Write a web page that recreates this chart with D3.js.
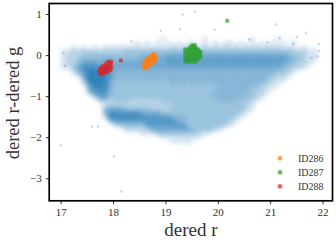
<!DOCTYPE html>
<html>
<head>
<meta charset="utf-8">
<script src="https://cdn.jsdelivr.net/npm/d3@7"></script>
<style>
  body { margin: 0; background: #fff; }
  svg { display: block; }
  text { font-family: "Liberation Serif", "DejaVu Serif", serif; }
</style>
</head>
<body>
<svg id="chart" width="336" height="246" font-family="Liberation Serif, DejaVu Serif, serif"></svg>
<script>
const xTicks = [17, 18, 19, 20, 21, 22];
const yTicks = [-3, -2, -1, 0, 1];
const legendLabels = ['ID286', 'ID287', 'ID288'];
const seriesColors = ['#ff7f0e', '#2ca02c', '#d62728'];
const cloudColor = '#1f77b4';
const serif = '"Liberation Serif", "DejaVu Serif", serif';

// blue background cloud: density (0-9) per 0.1 x 0.1 cell
// columns start at x = 17.0, one row per y centre
const cloudX0 = 17.0;
const cloudRowY = [0.4, 0.3, 0.2, 0.1, 0.0, -0.1, -0.2, -0.3, -0.4, -0.5, -0.6, -0.7, -0.8,
  -0.9, -1.0, -1.1, -1.2, -1.3, -1.4, -1.5, -1.6, -1.7, -1.8, -1.9, -2.0, -2.1];
const cloudRows = [
  '0000000000 0000000001 0000000100 0000001000 0100000000',
  '0000000000 0000101010 1010110101 0110101010 1010100000',
  '0010101011 1111111111 1212121212 1212121212 1211101000',
  '1122222222 2233333333 3333333333 3333333333 3333222110',
  '1222333333 3333344444 5555555555 5555555555 5554332110',
  '1223444455 4444455555 6666666666 6666666666 6665432110',
  '1224666555 5555555555 6666666666 6666666666 6654322100',
  '1136888666 5555555555 5555555555 5555555555 5543221000',
  '0024799986 4444444444 4444444444 4444444444 4332100000',
  '0002699986 4444444444 4444444444 4444444444 3221000000',
  '0000499985 4343434343 4444444444 4444444443 2110000000',
  '0000279985 3333333333 3434343434 4444444432 1100000000',
  '0000058884 3333333333 3333333333 4444443321 1000000000',
  '0000047774 3333333333 3333333334 4444443221 0000000000',
  '0000003663 3333333333 3333333334 4444433210 0000000000',
  '0000000332 3332222223 3333333333 4443332100 0000000000',
  '0000000012 2222222222 2333333333 3333321000 0000000000',
  '0000000045 5533333222 2333333333 3333321000 0000000000',
  '0000000047 7777755553 3333333333 3333210000 0000000000',
  '0000000028 8888886666 6444333333 3332100000 0000000000',
  '0000000004 6666667777 7744333333 3321000000 0000000000',
  '0000000000 2333336666 6666333333 3210000000 0000000000',
  '0000000000 0022222555 5555533332 1000000000 0000000000',
  '0000000000 0000011133 3333332110 0000000000 0000000000',
  '0000000000 0000000001 1111111000 0000000000 0000000000',
  '0000000000 0000000000 0111100000 0000000000 0000000000'
];

// isolated blue points away from the cloud
const cloudStray = [
  [17.0, -2.2], [18.02, -2.47], [18.16, -3.32], [17.6, -1.74], [17.71, -1.74],
  [19.33, 0.99], [19.56, 1.06], [18.91, 0.59], [19.28, 0.63], [21.11, 0.745],
  [21.68, 0.54], [21.44, 0.28], [19.94, 0.62], [21.18, 0.41], [21.51, 0.44],
  [21.93, 0.27], [21.93, 0.10], [21.79, -0.07], [21.9, -0.03], [17.05, 0.05],
  [17.08, -0.26], [20.6, 0.38], [18.35, 0.33], [20.95, 0.31]
];

const id286 = [
  [18.77, 0.03],
  [18.72, -0.02], [18.77, -0.02], [18.80, -0.02],
  [18.67, -0.07], [18.72, -0.07], [18.77, -0.07], [18.80, -0.07],
  [18.63, -0.12], [18.68, -0.12], [18.73, -0.12], [18.78, -0.12], [18.80, -0.12],
  [18.60, -0.17], [18.65, -0.17], [18.70, -0.17], [18.75, -0.17], [18.78, -0.17],
  [18.59, -0.22], [18.64, -0.22], [18.69, -0.22], [18.74, -0.22],
  [18.59, -0.27], [18.64, -0.27], [18.69, -0.27],
  [18.59, -0.32], [18.63, -0.32]
];

const id287 = [
  [19.51, 0.24], [19.56, 0.24],
  [19.47, 0.19], [19.52, 0.19], [19.57, 0.19],
  [19.38, 0.14], [19.43, 0.14], [19.48, 0.14], [19.53, 0.14], [19.58, 0.14], [19.62, 0.14],
  [19.38, 0.08], [19.43, 0.08], [19.48, 0.08], [19.53, 0.08], [19.58, 0.08], [19.63, 0.08], [19.67, 0.08],
  [19.38, 0.02], [19.43, 0.02], [19.48, 0.02], [19.53, 0.02], [19.58, 0.02], [19.63, 0.02], [19.66, 0.02],
  [19.38, -0.04], [19.43, -0.04], [19.48, -0.04], [19.53, -0.04], [19.58, -0.04], [19.63, -0.04], [19.67, -0.04],
  [19.38, -0.10], [19.43, -0.10], [19.48, -0.10], [19.53, -0.10], [19.58, -0.10], [19.63, -0.10],
  [19.38, -0.16], [19.43, -0.16], [19.48, -0.16], [19.53, -0.16], [19.58, -0.16],
  [20.18, 0.835]
];

const id288 = [
  [17.91, -0.16], [17.96, -0.16],
  [17.86, -0.21], [17.91, -0.21], [17.96, -0.21],
  [17.80, -0.27], [17.85, -0.27], [17.90, -0.27], [17.95, -0.27],
  [17.76, -0.32], [17.81, -0.32], [17.86, -0.32], [17.91, -0.32], [17.96, -0.32],
  [17.74, -0.37], [17.79, -0.37], [17.84, -0.37], [17.89, -0.37], [17.94, -0.37],
  [17.74, -0.42], [17.79, -0.42], [17.84, -0.42], [17.89, -0.42],
  [17.76, -0.46], [17.81, -0.46],
  [18.15, -0.13]
];

const series = [id286, id287, id288];

const box = { left: 49.2, right: 332.5, top: 3.5, bottom: 200.8 };

const svg = d3.select('#chart');

const xScale = d3.scaleLinear().domain([16.78, 22.19]).range([box.left, box.right]);
const yScale = d3.scaleLinear().domain([-3.548, 1.256]).range([box.bottom, box.top]);

const defs = svg.append('defs');
defs.append('clipPath').attr('id', 'plot-clip')
  .append('rect')
  .attr('x', box.left).attr('y', box.top)
  .attr('width', box.right - box.left).attr('height', box.bottom - box.top);
defs.append('filter').attr('id', 'soft')
  .attr('x', '-5%').attr('y', '-5%').attr('width', '110%').attr('height', '110%')
  .append('feGaussianBlur').attr('stdDeviation', 2);

const plot = svg.append('g').attr('clip-path', 'url(#plot-clip)');

// density cells
const cells = [];
cloudRows.forEach((row, r) => {
  row.replace(/ /g, '').split('').forEach((c, i) => {
    const v = +c;
    if (v > 0) cells.push({ x: cloudX0 + i * 0.1, y: cloudRowY[r], v });
  });
});

const opacity = d3.scalePow().exponent(0.75).domain([0, 9]).range([0, 0.93]);

plot.append('g').attr('filter', 'url(#soft)')
  .selectAll('rect')
  .data(cells)
  .join('rect')
  .attr('x', d => xScale(d.x))
  .attr('y', d => yScale(d.y + 0.05))
  .attr('width', d => xScale(d.x + 0.1) - xScale(d.x) + 0.3)
  .attr('height', d => yScale(d.y - 0.05) - yScale(d.y + 0.05) + 0.3)
  .attr('fill', cloudColor)
  .attr('fill-opacity', d => opacity(d.v));

plot.append('g')
  .selectAll('circle')
  .data(cloudStray)
  .join('circle')
  .attr('cx', d => xScale(d[0]))
  .attr('cy', d => yScale(d[1]))
  .attr('r', 1.3)
  .attr('fill', cloudColor)
  .attr('fill-opacity', 0.25);

series.forEach((pts, k) => {
  plot.append('g')
    .selectAll('circle')
    .data(pts)
    .join('circle')
    .attr('cx', d => xScale(d[0]))
    .attr('cy', d => yScale(d[1]))
    .attr('r', 2.2)
    .attr('fill', seriesColors[k])
    .attr('fill-opacity', 0.7);
});

// axes
const fmt = d => d < 0 ? '\u2212' + Math.abs(d) : String(d);

const xAxis = svg.append('g')
  .attr('transform', `translate(0,${box.bottom})`)
  .call(d3.axisBottom(xScale).tickValues(xTicks).tickSize(3.5).tickPadding(4).tickFormat(fmt));
const yAxis = svg.append('g')
  .attr('transform', `translate(${box.left},0)`)
  .call(d3.axisLeft(yScale).tickValues(yTicks).tickSize(3.5).tickPadding(4).tickFormat(fmt));

[xAxis, yAxis].forEach(a => {
  a.attr('font-family', serif).attr('font-size', 11);
  a.select('.domain').remove();
  a.selectAll('.tick line').attr('stroke', '#000').attr('stroke-width', 0.8);
  a.selectAll('.tick text').attr('fill', '#333');
});

svg.append('rect')
  .attr('x', box.left).attr('y', box.top)
  .attr('width', box.right - box.left).attr('height', box.bottom - box.top)
  .attr('fill', 'none')
  .attr('stroke', '#000')
  .attr('stroke-width', 1.7);

// axis labels
svg.append('text')
  .attr('x', (box.left + box.right) / 2)
  .attr('y', 236)
  .attr('text-anchor', 'middle')
  .attr('fill', '#333')
  .attr('font-family', serif)
  .attr('font-size', 19)
  .text('dered r');

svg.append('text')
  .attr('transform', 'translate(19,103) rotate(-90)')
  .attr('text-anchor', 'middle')
  .attr('fill', '#333')
  .attr('font-family', serif)
  .attr('font-size', 18.5)
  .text('dered r-dered g');

// legend
const legend = svg.append('g').attr('class', 'legend');
legendLabels.forEach((label, k) => {
  const ly = 158.3 + k * 14;
  legend.append('circle')
    .attr('cx', 280).attr('cy', ly).attr('r', 2.4)
    .attr('fill', seriesColors[k]).attr('fill-opacity', 0.7);
  legend.append('text')
    .attr('x', 298).attr('y', ly + 3.4)
    .attr('fill', '#333')
    .attr('font-family', serif)
    .attr('font-size', 10)
    .text(label);
});
</script>
</body>
</html>
